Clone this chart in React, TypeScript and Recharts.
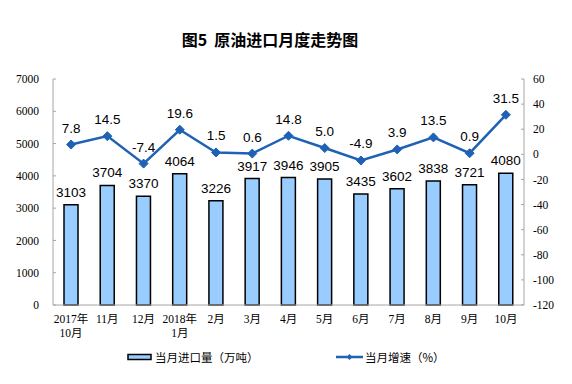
import React from "react";
import {
  ComposedChart,
  Bar,
  Line,
  XAxis,
  YAxis,
  LabelList,
  Legend,
} from "recharts";

const categories = [
  "2017年\n10月",
  "11月",
  "12月",
  "2018年\n1月",
  "2月",
  "3月",
  "4月",
  "5月",
  "6月",
  "7月",
  "8月",
  "9月",
  "10月",
];
const importVolume = [3103, 3704, 3370, 4064, 3226, 3917, 3946, 3905, 3435, 3602, 3838, 3721, 4080];
const growthRate = [7.8, 14.5, -7.4, 19.6, 1.5, 0.6, 14.8, 5.0, -4.9, 3.9, 13.5, 0.9, 31.5];
const leftTicks = [0, 1000, 2000, 3000, 4000, 5000, 6000, 7000];
const rightTicks = [-120, -100, -80, -60, -40, -20, 0, 20, 40, 60];
const boundaryTicks = [0, 1, 2, 3, 4, 5, 6, 7, 8, 9, 10, 11, 12, 13];

const data = categories.map((c, i) => ({
  name: c,
  idx: i + 0.5,
  volume: importVolume[i],
  rate: growthRate[i],
}));

const BAR_FILL = "#99CCFF";
const LINE_COLOR = "#1F62B5";
const AXIS_COLOR = "#A6A6A6";
const SERIF = "'Liberation Serif', 'Noto Sans CJK SC', serif";
const SANS = "'Liberation Sans', Arial, 'Noto Sans CJK SC', sans-serif";
const CJK = "'Noto Sans CJK SC', 'Liberation Sans', sans-serif";

const XTick = (props: any) => {
  const { x, y, payload } = props;
  const lines = String(payload.value).split("\n");
  return (
    <text x={x} y={y} textAnchor="middle" fontFamily={SERIF} fontSize={11.5} fill="#000">
      {lines.map((l, i) => (
        <tspan key={i} x={x} dy={i === 0 ? 10 : 14}>
          {l}
        </tspan>
      ))}
    </text>
  );
};

const Diamond = (props: any) => {
  const { cx, cy } = props;
  if (cx == null || cy == null) return null;
  const r = 4.5;
  return (
    <polygon
      points={`${cx},${cy - r} ${cx + r},${cy} ${cx},${cy + r} ${cx - r},${cy}`}
      fill={LINE_COLOR}
      stroke={LINE_COLOR}
    />
  );
};

const LegendContent = () => (
  <div style={{ position: "relative", height: 0, width: 572 }}>
    <div
      style={{
        position: "absolute",
        left: 127,
        top: 0,
        display: "flex",
        alignItems: "center",
        fontFamily: CJK,
        fontSize: 11.5,
        color: "#000",
        whiteSpace: "nowrap",
      }}
    >
      <svg width={26} height={10}>
        <rect x={1} y={2.5} width={23} height={5} fill={BAR_FILL} stroke="#000" strokeWidth={1.5} />
      </svg>
      <span style={{ marginLeft: 2 }}>当月进口量（万吨）</span>
    </div>
    <div
      style={{
        position: "absolute",
        left: 336,
        top: 0,
        display: "flex",
        alignItems: "center",
        fontFamily: CJK,
        fontSize: 11.5,
        color: "#000",
        whiteSpace: "nowrap",
      }}
    >
      <svg width={28} height={10}>
        <line x1={0} y1={5} x2={27} y2={5} stroke={LINE_COLOR} strokeWidth={2.5} />
        <polygon points="13.5,2 16.5,5 13.5,8 10.5,5" fill={LINE_COLOR} />
      </svg>
      <span style={{ marginLeft: 1 }}>当月增速（%）</span>
    </div>
  </div>
);

export default function App() {
  return (
    <div style={{ position: "absolute", left: 0, top: 0, width: 572, height: 384, background: "#fff" }}>
      <div
        style={{
          position: "absolute",
          left: 0,
          width: 540,
          top: 29,
          textAlign: "center",
          fontFamily: CJK,
          fontWeight: "bold",
          fontSize: 16,
          color: "#000",
          lineHeight: "20px",
        }}
      >
        图5&nbsp;&nbsp;原油进口月度走势图
      </div>
      <ComposedChart
        width={572}
        height={384}
        data={data}
        margin={{ top: 79, right: 0, bottom: 0, left: 0 }}
      >
        <XAxis
          xAxisId="grid"
          type="number"
          dataKey="idx"
          domain={[0, 13]}
          ticks={boundaryTicks}
          interval={0}
          axisLine={false}
          tickLine={{ stroke: AXIS_COLOR }}
          tickSize={-3}
          tick={false}
          height={0}
          orientation="bottom"
        />
        <XAxis
          xAxisId="cat"
          dataKey="name"
          interval={0}
          axisLine={{ stroke: AXIS_COLOR }}
          tickLine={false}
          tick={<XTick />}
          height={79}
        />
        <YAxis
          yAxisId="left"
          orientation="left"
          domain={[0, 7000]}
          ticks={leftTicks}
          interval={0}
          width={53}
          axisLine={{ stroke: AXIS_COLOR }}
          tickLine={{ stroke: AXIS_COLOR }}
          tickSize={-3}
          tickMargin={17}
          tick={{ fontFamily: SERIF, fontSize: 11.5, fill: "#000" }}
        />
        <YAxis
          yAxisId="right"
          orientation="right"
          domain={[-120, 60]}
          ticks={rightTicks}
          interval={0}
          width={48}
          axisLine={{ stroke: AXIS_COLOR }}
          tickLine={{ stroke: AXIS_COLOR }}
          tickSize={-3}
          tickMargin={12}
          tick={{ fontFamily: SERIF, fontSize: 11.5, fill: "#000" }}
        />
        <Bar
          xAxisId="cat"
          yAxisId="left"
          dataKey="volume"
          fill={BAR_FILL}
          stroke="#000"
          strokeWidth={1.5}
          barSize={14}
          isAnimationActive={false}
        >
          <LabelList
            dataKey="volume"
            position="top"
            offset={8}
            style={{ fontFamily: SANS, fontSize: 13.5, fill: "#000" }}
          />
        </Bar>
        <Line
          xAxisId="cat"
          yAxisId="right"
          dataKey="rate"
          stroke={LINE_COLOR}
          strokeWidth={2.5}
          dot={<Diamond />}
          activeDot={false}
          isAnimationActive={false}
        >
          <LabelList
            dataKey="rate"
            position="top"
            offset={12}
            formatter={(v: any) => Number(v).toFixed(1)}
            style={{ fontFamily: SANS, fontSize: 13.5, fill: "#000" }}
          />
        </Line>
        <Legend
          content={<LegendContent />}
          wrapperStyle={{ position: "absolute", left: 0, top: 349, width: 572, height: 0 }}
        />
      </ComposedChart>
    </div>
  );
}
